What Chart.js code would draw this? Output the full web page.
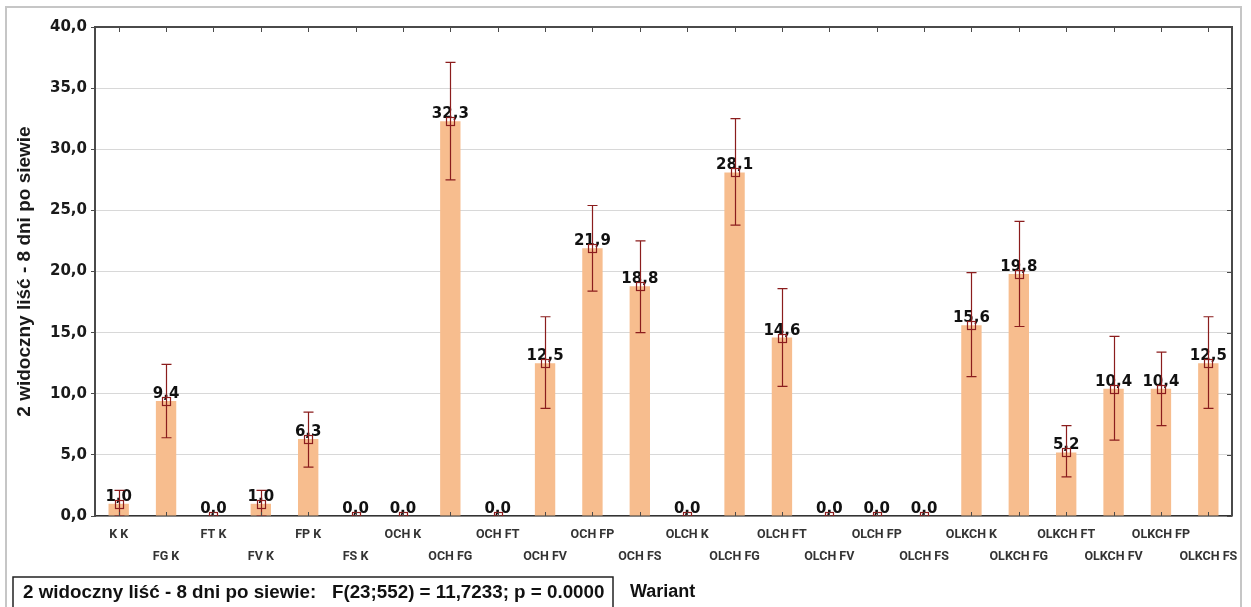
<!DOCTYPE html>
<html>
<head>
<meta charset="utf-8">
<script src="https://cdn.jsdelivr.net/npm/chart.js@4.4.1/dist/chart.umd.min.js"></script>
<style>
  html, body { margin: 0; padding: 0; background: #fff; }
  #wrap { position: relative; width: 1251px; height: 607px; }
</style>
</head>
<body>
<div id="wrap"><canvas id="chart"></canvas></div>
<script>
const categories = ['K K', 'FG K', 'FT K', 'FV K', 'FP K', 'FS K', 'OCH K', 'OCH FG', 'OCH FT', 'OCH FV', 'OCH FP', 'OCH FS',
  'OLCH K', 'OLCH FG', 'OLCH FT', 'OLCH FV', 'OLCH FP', 'OLCH FS', 'OLKCH K', 'OLKCH FG', 'OLKCH FT', 'OLKCH FV', 'OLKCH FP', 'OLKCH FS'];
const means   = [1.0, 9.4, 0.0, 1.0, 6.3, 0.0, 0.0, 32.3, 0.0, 12.5, 21.9, 18.8, 0.0, 28.1, 14.6, 0.0, 0.0, 0.0, 15.6, 19.8, 5.2, 10.4, 10.4, 12.5];
const errLow  = [0.0, 6.4, 0.0, 0.0, 4.0, 0.0, 0.0, 27.5, 0.0, 8.8, 18.4, 15.0, 0.0, 23.8, 10.6, 0.0, 0.0, 0.0, 11.4, 15.5, 3.2, 6.2, 7.4, 8.8];
const errHigh = [2.1, 12.4, 0.0, 2.1, 8.5, 0.0, 0.0, 37.1, 0.0, 16.3, 25.4, 22.5, 0.0, 32.5, 18.6, 0.0, 0.0, 0.0, 19.9, 24.1, 7.4, 14.7, 13.4, 16.3];
const yTicks = [0, 5, 10, 15, 20, 25, 30, 35, 40];
const yTitle = '2 widoczny liść - 8 dni po siewie';
const xTitle = 'Wariant';
const statsText = '2 widoczny liść - 8 dni po siewie:   F(23;552) = 11,7233; p = 0.0000';

const BAR = '#f7bd8e';
const ERR = '#8b1d1d';
const AXIS = '#4a4a4a';

// comma decimals like the original
const fmt = v => v.toFixed(1).replace('.', ',');

// even labels on the first row, odd ones dropped to a second row
const xLabels = categories.map((c, i) => i % 2 ? ['', c] : [c]);

const decor = {
  id: 'decor',
  beforeDraw(chart) {
    const ctx = chart.ctx;
    ctx.save();
    ctx.fillStyle = '#fff';
    ctx.fillRect(0, 0, chart.width, chart.height);
    ctx.strokeStyle = '#c6c6c6';
    ctx.lineWidth = 2;
    ctx.strokeRect(6, 7, 1235, 640);
    ctx.restore();
  },
  afterDatasetsDraw(chart) {
    const ctx = chart.ctx;
    const xs = chart.scales.x, ys = chart.scales.y;
    const area = chart.chartArea;
    ctx.save();
    // value labels
    ctx.font = 'bold 15px "DejaVu Sans"';
    ctx.fillStyle = '#111';
    ctx.textAlign = 'center';
    ctx.textBaseline = 'alphabetic';
    means.forEach((m, i) => {
      ctx.fillText(fmt(m), xs.getPixelForValue(i), ys.getPixelForValue(m) - 3);
    });
    // whiskers + mean squares
    ctx.beginPath();
    ctx.rect(area.left, area.top, area.right - area.left, area.bottom - area.top);
    ctx.clip();
    ctx.strokeStyle = ERR;
    ctx.lineWidth = 1.2;
    means.forEach((m, i) => {
      const x = Math.round(xs.getPixelForValue(i)) + 0.5;
      const lo = ys.getPixelForValue(errLow[i]);
      const hi = ys.getPixelForValue(errHigh[i]);
      ctx.beginPath();
      ctx.moveTo(x, lo); ctx.lineTo(x, hi);
      ctx.moveTo(x - 5, hi); ctx.lineTo(x + 5, hi);
      ctx.moveTo(x - 5, lo); ctx.lineTo(x + 5, lo);
      ctx.stroke();
      const y = ys.getPixelForValue(m);
      ctx.strokeRect(x - 4, Math.round(y) - 3.5, 8, 8);
    });
    ctx.restore();
  },
  afterDraw(chart) {
    const ctx = chart.ctx;
    const xs = chart.scales.x, ys = chart.scales.y;
    const a = chart.chartArea;
    ctx.save();
    ctx.strokeStyle = AXIS;
    ctx.lineWidth = 2;
    ctx.beginPath();
    ctx.moveTo(a.left, a.top); ctx.lineTo(a.right, a.top); ctx.lineTo(a.right, a.bottom);
    ctx.stroke();
    ctx.lineWidth = 1;
    ctx.beginPath();
    categories.forEach((c, i) => {
      const x = Math.round(xs.getPixelForValue(i)) + 0.5;
      ctx.moveTo(x, a.top); ctx.lineTo(x, a.top + 5);
      ctx.moveTo(x, a.bottom); ctx.lineTo(x, a.bottom - 4);
    });
    yTicks.forEach(v => {
      const y = Math.round(ys.getPixelForValue(v)) + 0.5;
      ctx.moveTo(a.right, y); ctx.lineTo(a.right - 5, y);
    });
    ctx.stroke();

    // statistics box under the chart
    ctx.strokeStyle = '#222';
    ctx.lineWidth = 1.5;
    ctx.strokeRect(13, 577, 600, 40);
    ctx.fillStyle = '#111';
    ctx.font = 'bold 18.8px "Liberation Sans"';
    ctx.textAlign = 'left';
    ctx.textBaseline = 'alphabetic';
    ctx.fillText(statsText, 23, 598);
    ctx.font = 'bold 18px "Liberation Sans"';
    ctx.fillText(xTitle, 630, 597);
    ctx.restore();
  }
};

new Chart(document.getElementById('chart'), {
  type: 'bar',
  data: {
    labels: xLabels,
    datasets: [{
      data: means,
      backgroundColor: BAR,
      borderWidth: 0,
      categoryPercentage: 1,
      barPercentage: 0.43
    }]
  },
  options: {
    responsive: true,
    maintainAspectRatio: false,
    animation: false,
    layout: { padding: { left: 0, top: 27, right: 19, bottom: 0 } },
    plugins: { legend: { display: false }, tooltip: { enabled: false } },
    scales: {
      x: {
        afterFit: s => { s.height = 91; },
        grid: { display: false, drawTicks: false },
        border: { display: true, color: '#333', width: 1.5 },
        ticks: {
          autoSkip: false,
          maxRotation: 0,
          padding: 8,
          color: '#333',
          font: { family: 'Roboto', weight: 'bold', size: 12.5, lineHeight: 22 / 12.5 }
        }
      },
      y: {
        min: 0,
        max: 40,
        afterFit: s => { s.width = 95; },
        afterBuildTicks: s => { s.ticks = yTicks.map(v => ({ value: v })); },
        grid: { color: '#d8d8d8', lineWidth: 1, tickLength: 4, tickColor: AXIS },
        border: { display: true, color: AXIS, width: 2 },
        ticks: {
          padding: 4,
          color: '#1a1a1a',
          font: { family: '"DejaVu Sans"', weight: 'bold', size: 15 },
          callback: v => fmt(v)
        },
        title: {
          display: true,
          text: yTitle,
          color: '#1a1a1a',
          padding: { top: 13, bottom: 0 },
          font: { family: '"Liberation Sans"', weight: 'bold', size: 19 }
        }
      }
    }
  },
  plugins: [decor]
});
</script>
</body>
</html>
